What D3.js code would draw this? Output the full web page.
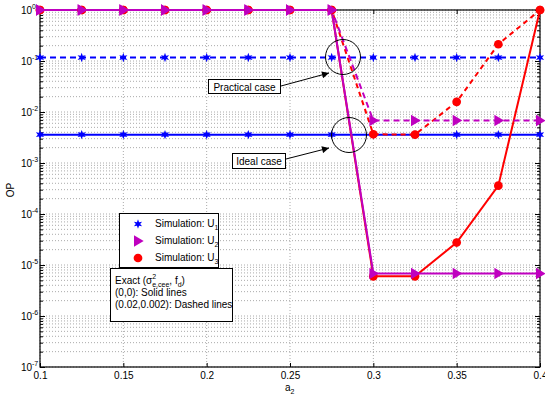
<!DOCTYPE html>
<html>
<head>
<meta charset="utf-8">
<script src="https://cdn.jsdelivr.net/npm/d3@7"></script>
<style>
body { margin: 0; background: #fff; }
svg text { font-family: "Liberation Sans", Arial, sans-serif; }
</style>
</head>
<body>
<svg id="chart"></svg>
<script>
// a2 values and OP values
let xs = [0.1, 0.125, 0.15, 0.175, 0.2, 0.225, 0.25, 0.275, 0.3, 0.325, 0.35, 0.375, 0.4]
let u1Ideal = [3.6e-3, 3.6e-3, 3.6e-3, 3.6e-3, 3.6e-3, 3.6e-3, 3.6e-3, 3.6e-3, 3.6e-3, 3.6e-3, 3.6e-3, 3.6e-3, 3.6e-3]
let u1Prac = [0.117, 0.117, 0.117, 0.117, 0.117, 0.117, 0.117, 0.117, 0.117, 0.117, 0.117, 0.117, 0.117]
let u2Ideal = [1, 1, 1, 1, 1, 1, 1, 1, 6.8e-6, 6.8e-6, 6.8e-6, 6.8e-6, 6.8e-6]
let u2Prac = [1, 1, 1, 1, 1, 1, 1, 1, 6.8e-3, 6.8e-3, 6.8e-3, 6.8e-3, 6.8e-3]
let u3Ideal = [1, 1, 1, 1, 1, 1, 1, 1, 6e-6, 6e-6, 2.76e-5, 3.6e-4, 1]
let u3Prac = [1, 1, 1, 1, 1, 1, 1, 1, 3.66e-3, 3.6e-3, 0.0158, 0.213, 1]

let xTicks = [0.1, 0.15, 0.2, 0.25, 0.3, 0.35, 0.4]
let yExps = [0, -1, -2, -3, -4, -5, -6, -7]

let width = 545
let height = 401
let pLeft = 40, pRight = 540, pTop = 10, pBottom = 367

let blue = '#0000ff', magenta = '#bf00bf', red = '#ff0000'

let svg = d3.select('#chart').attr('width', width).attr('height', height)

let xScale = d3.scaleLinear().domain([0.1, 0.4]).range([pLeft, pRight])
let yScale = d3.scaleLog().domain([1e-7, 1]).range([pBottom, pTop])

// grid
let grid = svg.append('g')
xTicks.forEach(t => {
    grid.append('line')
        .attr('x1', xScale(t)).attr('x2', xScale(t))
        .attr('y1', pTop).attr('y2', pBottom)
        .attr('stroke', '#aaa').attr('stroke-width', 1).attr('stroke-dasharray', '1,2')
})
let minorVals = []
yExps.forEach(e => { for (let m = 1; m <= 9; m++) { let v = m * Math.pow(10, e); if (v <= 1) minorVals.push(v) } })
minorVals.forEach(v => {
    grid.append('line')
        .attr('x1', pLeft).attr('x2', pRight)
        .attr('y1', yScale(v)).attr('y2', yScale(v))
        .attr('stroke', '#aaa').attr('stroke-width', 1).attr('stroke-dasharray', '1,2')
})

// axes
let xAxis = d3.axisBottom(xScale).tickValues(xTicks).tickSize(-4).tickFormat(d => d3.format('')(d))
let xAxisTop = d3.axisTop(xScale).tickValues(xTicks).tickSize(-4).tickFormat('')

let gx = svg.append('g').attr('transform', 'translate(0,' + pBottom + ')').call(xAxis)
svg.append('g').attr('transform', 'translate(0,' + pTop + ')').call(xAxisTop)

let majorVals = yExps.map(e => Math.pow(10, e))
svg.append('g').attr('transform', 'translate(' + pLeft + ',0)')
    .call(d3.axisLeft(yScale).tickValues(minorVals).tickSize(-3).tickFormat(''))
svg.append('g').attr('transform', 'translate(' + pRight + ',0)')
    .call(d3.axisRight(yScale).tickValues(minorVals).tickSize(-3).tickFormat(''))
svg.append('g').attr('transform', 'translate(' + pLeft + ',0)')
    .call(d3.axisLeft(yScale).tickValues(majorVals).tickSize(-5).tickFormat(''))
svg.append('g').attr('transform', 'translate(' + pRight + ',0)')
    .call(d3.axisRight(yScale).tickValues(majorVals).tickSize(-5).tickFormat(''))

svg.selectAll('.domain').remove()
svg.selectAll('.tick line').attr('stroke', '#000')
gx.selectAll('text').attr('font-size', 10).attr('fill', '#000').attr('dy', '0.9em')
    .attr('font-family', '"Liberation Sans", Arial, sans-serif')

// y tick labels with superscripts
yExps.forEach(e => {
    svg.append('text')
        .attr('x', pLeft - 8).attr('y', yScale(Math.pow(10, e)) + 4)
        .attr('text-anchor', 'end').attr('font-size', 10).text('10')
    svg.append('text')
        .attr('x', pLeft - 8).attr('y', yScale(Math.pow(10, e)) - 1)
        .attr('font-size', 7).text(e)
})

// frame
svg.append('rect').attr('x', pLeft).attr('y', pTop).attr('width', pRight - pLeft).attr('height', pBottom - pTop)
    .attr('fill', 'none').attr('stroke', '#000').attr('stroke-width', 1.2)

// axis titles
svg.append('text').attr('transform', 'translate(14,190) rotate(-90)')
    .attr('text-anchor', 'middle').attr('font-size', 10).text('OP')
let xt = svg.append('text').attr('x', 285).attr('y', 391).attr('font-size', 10)
xt.append('tspan').text('a')
xt.append('tspan').attr('font-size', 7).attr('dy', 3).text('2')

// series
let pts = (ys) => xs.map((x, i) => [x, ys[i]])
let line = d3.line().x(d => xScale(d[0])).y(d => yScale(d[1]))

let hexagram = {
    draw: function(ctx, size) {
        let r = Math.sqrt(size) * 0.75, r2 = r * 0.45
        for (let i = 0; i < 12; i++) {
            let a = Math.PI / 2 + i * Math.PI / 6
            let rr = i % 2 == 0 ? r : r2
            let px = rr * Math.cos(a), py = -rr * Math.sin(a)
            if (i == 0) ctx.moveTo(px, py); else ctx.lineTo(px, py)
        }
        ctx.closePath()
    }
}
let triRight = {
    draw: function(ctx, size) {
        let s = Math.sqrt(size) * 0.6
        ctx.moveTo(s, 0)
        ctx.lineTo(-s * 0.7, -s)
        ctx.lineTo(-s * 0.7, s)
        ctx.closePath()
    }
}

let series = [
    {data: u1Prac, color: blue, dash: '6,4', symbol: hexagram, size: 40},
    {data: u1Ideal, color: blue, dash: null, symbol: hexagram, size: 40},
    {data: u3Prac, color: red, dash: '5,4', symbol: d3.symbolCircle, size: 60},
    {data: u3Ideal, color: red, dash: null, symbol: d3.symbolCircle, size: 60},
    {data: u2Prac, color: magenta, dash: '6,4', symbol: triRight, size: 90},
    {data: u2Ideal, color: magenta, dash: null, symbol: triRight, size: 90}
]

series.forEach(s => {
    svg.append('path').datum(pts(s.data))
        .attr('d', line).attr('fill', 'none')
        .attr('stroke', s.color).attr('stroke-width', 2)
        .attr('stroke-dasharray', s.dash)
})
series.forEach(s => {
    svg.append('g').selectAll('path')
        .data(pts(s.data))
        .enter()
        .append('path')
        .attr('d', d3.symbol().type(s.symbol).size(s.size))
        .attr('transform', d => 'translate(' + xScale(d[0]) + ',' + yScale(d[1]) + ')')
        .attr('fill', s.color)
})

// circles and annotation boxes
svg.append('circle').attr('cx', 343).attr('cy', 57).attr('r', 17.5)
    .attr('fill', 'none').attr('stroke', '#000').attr('stroke-width', 1)
svg.append('circle').attr('cx', 349).attr('cy', 135).attr('r', 17.5)
    .attr('fill', 'none').attr('stroke', '#000').attr('stroke-width', 1)

svg.append('defs').append('marker').attr('id', 'arr')
    .attr('viewBox', '0 0 10 10').attr('refX', 10).attr('refY', 5)
    .attr('markerWidth', 9).attr('markerHeight', 7).attr('markerUnits', 'userSpaceOnUse')
    .attr('orient', 'auto')
    .append('path').attr('d', 'M0,0 L10,5 L0,10 Z').attr('fill', '#000')

svg.append('line').attr('x1', 281).attr('y1', 86).attr('x2', 329).attr('y2', 73)
    .attr('stroke', '#000').attr('stroke-width', 1).attr('marker-end', 'url(#arr)')
svg.append('line').attr('x1', 286).attr('y1', 159).attr('x2', 329).attr('y2', 148)
    .attr('stroke', '#000').attr('stroke-width', 1).attr('marker-end', 'url(#arr)')

svg.append('rect').attr('x', 208.5).attr('y', 79.5).attr('width', 72).attr('height', 14)
    .attr('fill', '#fff').attr('stroke', '#000')
svg.append('text').attr('x', 244.5).attr('y', 90.5).attr('text-anchor', 'middle')
    .attr('font-size', 10).text('Practical case')
svg.append('rect').attr('x', 232.5).attr('y', 153.5).attr('width', 53).attr('height', 15)
    .attr('fill', '#fff').attr('stroke', '#000')
svg.append('text').attr('x', 259).attr('y', 164.5).attr('text-anchor', 'middle')
    .attr('font-size', 10).text('Ideal case')

// legend
let legendNames = ['1', '2', '3']
let legendColors = [blue, magenta, red]
let legendSymbols = [hexagram, triRight, d3.symbolCircle]
let legendSizes = [40, 90, 60]
svg.append('rect').attr('x', 119.5).attr('y', 213.5).attr('width', 99).attr('height', 54)
    .attr('fill', '#fff').attr('stroke', '#000')
legendNames.forEach((n, i) => {
    let yy = 224 + i * 17
    svg.append('path').attr('d', d3.symbol().type(legendSymbols[i]).size(legendSizes[i]))
        .attr('transform', 'translate(138,' + yy + ')').attr('fill', legendColors[i])
    let t = svg.append('text').attr('x', 155).attr('y', yy + 3).attr('font-size', 10)
    t.append('tspan').text('Simulation: U')
    t.append('tspan').attr('font-size', 7).attr('dy', 3).text(n)
})

// exact note box
svg.append('rect').attr('x', 110.5).attr('y', 268.5).attr('width', 122).attr('height', 53)
    .attr('fill', '#fff').attr('stroke', '#000')
let n1 = svg.append('text').attr('x', 115).attr('y', 284).attr('font-size', 10)
n1.append('tspan').text('Exact (σ')
n1.append('tspan').attr('font-size', 7).attr('dy', -5).text('2')
n1.append('tspan').attr('font-size', 7).attr('dx', -4).attr('dy', 8).text('e,cee')
n1.append('tspan').attr('dy', -3).text(', f')
n1.append('tspan').attr('font-size', 7).attr('dy', 3).text('d')
n1.append('tspan').attr('dy', -3).text(')')
svg.append('text').attr('x', 115).attr('y', 296).attr('font-size', 10).text('(0,0): Solid lines')
svg.append('text').attr('x', 115).attr('y', 308).attr('font-size', 10).text('(0.02,0.002): Dashed lines')
</script>
</body>
</html>
